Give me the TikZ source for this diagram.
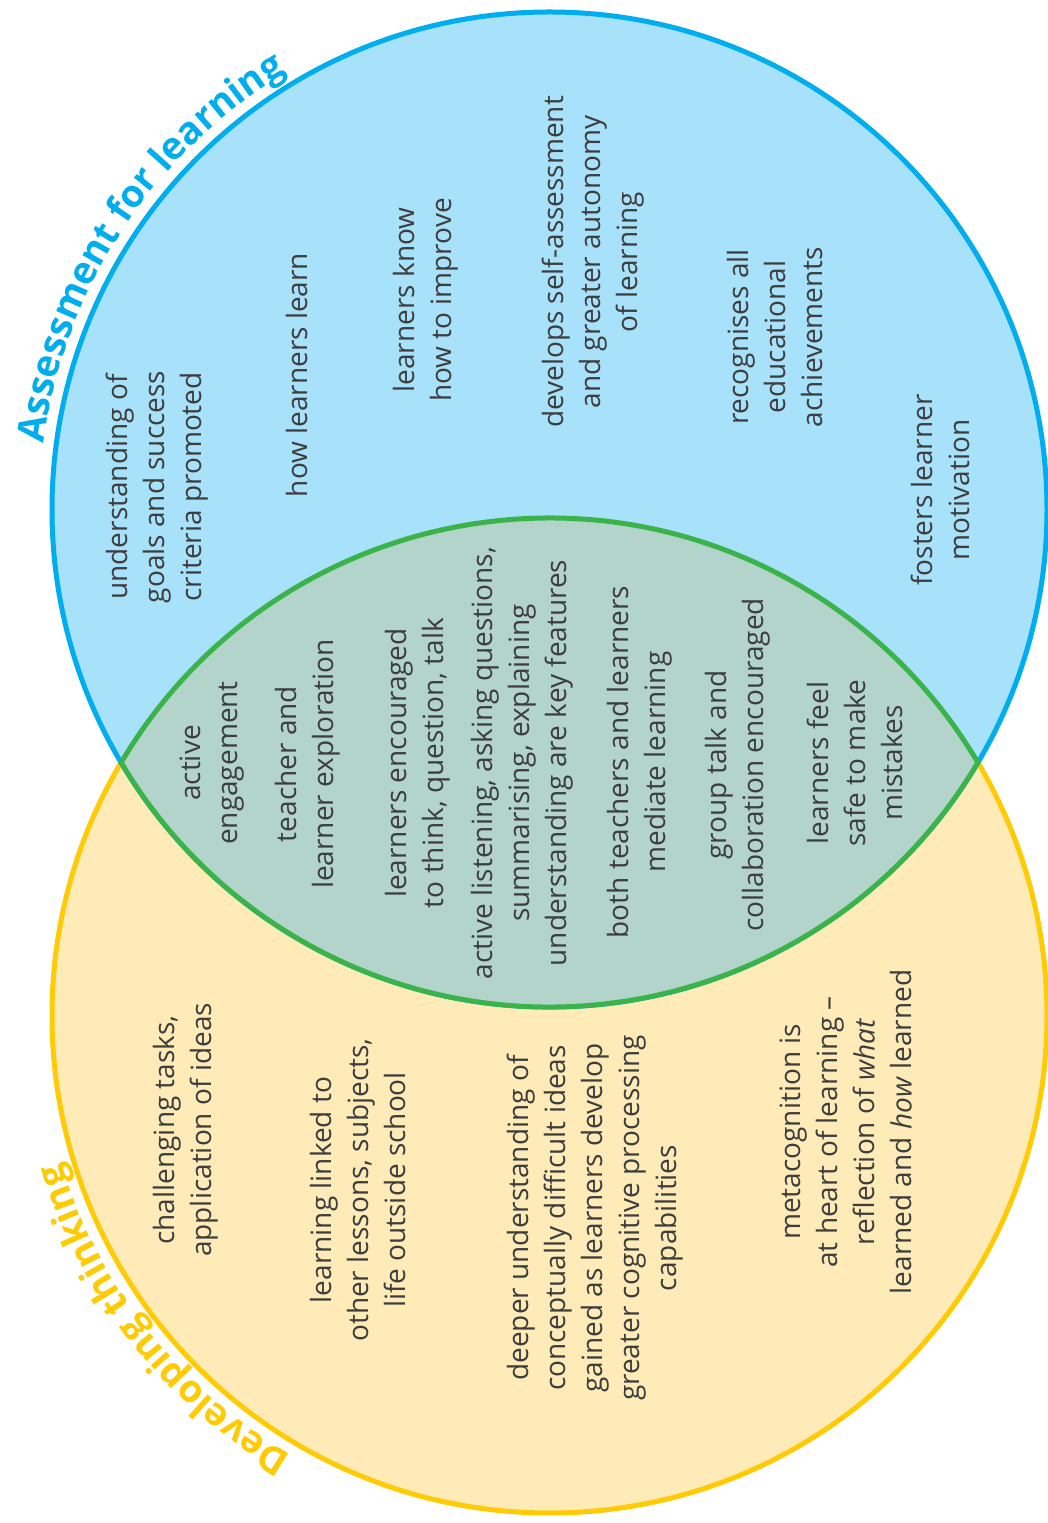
\documentclass[tikz,border=0pt]{standalone}
\usepackage{fontspec}
\setmainfont{Open Sans}
\usetikzlibrary{decorations.text}
\definecolor{aflline}{HTML}{00AEEF}
\definecolor{aflfill}{HTML}{A8E1FA}
\definecolor{dtline}{HTML}{FFCB05}
\definecolor{dtfill}{HTML}{FEEBB8}
\definecolor{lensline}{HTML}{3AB44A}
\definecolor{lensfill}{HTML}{B2D4CA}
\definecolor{txtgrey}{HTML}{3D3D3D}
\tikzset{
  lbl/.style={rotate=90, align=center, inner sep=0pt, text=txtgrey,
    font=\fontsize{14}{18.5}\selectfont},
  ring/.style={line width=2.5pt},
}
\newcommand{\titlefont}{\fontsize{19}{22}\selectfont\bfseries}
\begin{document}
\begin{tikzpicture}[x=0.5pt, y=0.5pt]
    \useasboundingbox (0,0) rectangle (1048,1523);
    \coordinate (afl) at (549.5,1013.5);
    \coordinate (dt) at (549.5,507.5);

    \draw[ring, draw=dtline, fill=dtfill] (dt) circle[radius=497.5];
    \draw[ring, draw=aflline, fill=aflfill] (afl) circle[radius=497.5];
    \draw[ring, draw=lensline, fill=lensfill] ([shift={(-30.57:497.5)}]afl)
      arc[start angle=-30.57, end angle=-149.43, radius=497.5]
      arc[start angle=149.43, end angle=30.57, radius=497.5] -- cycle;

    \path[decorate, decoration={text along path, text align=center,
      text color=aflline, text={|\titlefont|Assessment for learning}}]
      ([shift={(186.8:510)}]afl) arc[start angle=186.8, end angle=106.8, radius=510];
    \path[decorate, decoration={text along path, text align=center,
      text color=dtline, text={|\titlefont|Developing thinking}}]
      ([shift={(258.2:510)}]dt) arc[start angle=258.2, end angle=178.2, radius=510];

    \node (goals) at (157,1036) [lbl] {understanding of\\goals and success\\criteria promoted};
    \node (howlearn) at (297,1148) [lbl] {how learners learn};
    \node (improve) at (426,1223) [lbl] {learners know\\how to improve};
    \node (autonomy) at (593,1261) [lbl] {develops self-assessment\\and greater autonomy\\of learning};
    \node (achieve) at (775,1186) [lbl] {recognises all\\educational\\achievements};
    \node (motiv) at (940,1033) [lbl] {fosters learner\\motivation};

    \node (engage) at (212,760) [lbl] {active\\engagement};
    \node (explore) at (308,759) [lbl] {teacher and\\learner exploration};
    \node (think) at (418,760) [lbl] {learners encouraged\\to think, question, talk};
    \node (listen) at (522,760) [lbl] {active listening, asking questions,\\summarising, explaining\\understanding are key features};
    \node (mediate) at (640,761) [lbl] {both teachers and learners\\mediate learning};
    \node (group) at (738,758) [lbl] {group talk and\\collaboration encouraged};
    \node (safe) at (855,760) [lbl] {learners feel\\safe to make\\mistakes};

    \node (tasks) at (186,393) [lbl] {challenging tasks,\\application of ideas};
    \node (linked) at (358,333) [lbl] {learning linked to\\other lessons, subjects,\\life outside school};
    \node (deeper) at (595,305) [lbl] {deeper understanding of\\conceptually difficult ideas\\gained as learners develop\\greater cognitive processing\\capabilities};
    \node (meta) at (846,391) [lbl] {metacognition is\\at heart of learning --\\reflection of \emph{what}\\learned and \emph{how} learned};
\end{tikzpicture}
\end{document}
